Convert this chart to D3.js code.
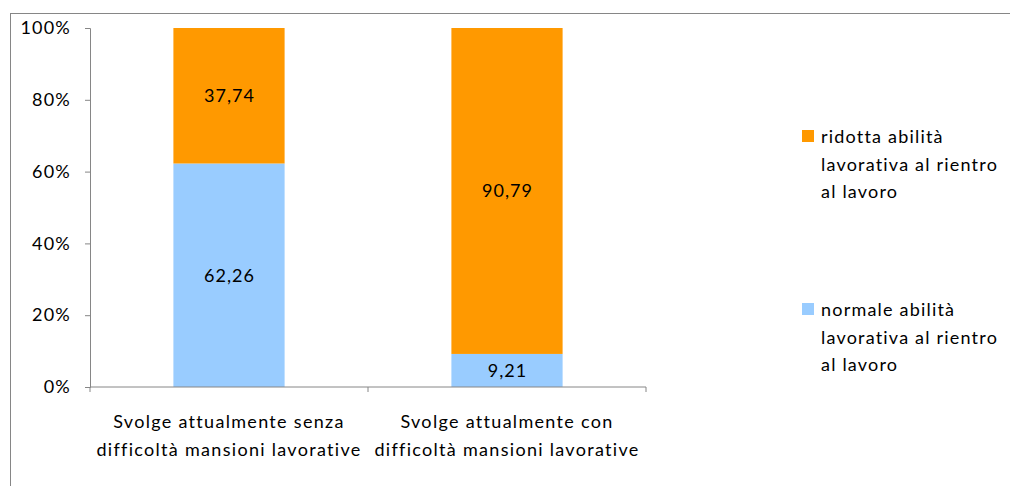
<!DOCTYPE html>
<html>
<head>
<meta charset="utf-8">
<script src="https://cdn.jsdelivr.net/npm/d3@7"></script>
<style>
  body { margin: 0; background: #fff; }
  text { font-family: Lato, "Open Sans", sans-serif; fill: #000; }
</style>
</head>
<body>
<div id="chart"></div>
<script>
var categories = [
    ["Svolge attualmente senza", "difficoltà mansioni lavorative"],
    ["Svolge attualmente con", "difficoltà mansioni lavorative"]
];
var normale = [62.26, 9.21];
var ridotta = [37.74, 90.79];
var valueLabels = [["62,26", "9,21"], ["37,74", "90,79"]];
var yTicks = [0, 20, 40, 60, 80, 100];
var legendLabels = [
    ["ridotta abilità", "lavorativa al rientro", "al lavoro"],
    ["normale abilità", "lavorativa al rientro", "al lavoro"]
];
var colors = ["#99ccff", "#ff9900"];

var width = 1010, height = 486;
var margin = {top: 28, left: 90, right: 364, bottom: 99};
var innerW = width - margin.left - margin.right,
    innerH = height - margin.top - margin.bottom;

var svg = d3.select("#chart").append("svg")
    .attr("width", width)
    .attr("height", height);

// outer frame
svg.append("rect")
    .attr("x", 10.5).attr("y", 13.5)
    .attr("width", 1100).attr("height", 600)
    .attr("fill", "none")
    .attr("stroke", "#868686");

var g = svg.append("g")
    .attr("transform", "translate(" + margin.left + "," + margin.top + ")");

var x = d3.scaleBand()
    .domain(d3.range(categories.length))
    .range([0, innerW])
    .paddingInner(0.6)
    .paddingOuter(0.3);
var y = d3.scaleLinear()
    .domain([0, 100])
    .range([innerH, 0]);

var series = [normale, ridotta];
var stacked = series.map(function(s, si) {
    return s.map(function(v, i) {
        var base = 0;
        for (var k = 0; k < si; k++) base += series[k][i];
        return {i: i, y0: base, y1: base + v, label: valueLabels[si][i], si: si};
    });
});

stacked.forEach(function(layer) {
    g.selectAll(null)
        .data(layer)
        .enter().append("rect")
        .attr("x", function(d) { return x(d.i); })
        .attr("width", x.bandwidth())
        .attr("y", function(d) { return y(d.y1); })
        .attr("height", function(d) { return y(d.y0) - y(d.y1); })
        .attr("fill", function(d) { return colors[d.si]; });

    g.selectAll(null)
        .data(layer)
        .enter().append("text")
        .attr("x", function(d) { return x(d.i) + x.bandwidth() / 2 + 0.5; })
        .attr("y", function(d) { return y((d.y0 + d.y1) / 2); })
        .attr("dy", "0.35em")
        .attr("text-anchor", "middle")
        .style("font-size", "18px")
        .style("letter-spacing", "1px")
        .text(function(d) { return d.label; });
});

// y axis
var yAxis = g.append("g")
    .call(d3.axisLeft(y).tickValues(yTicks).tickSize(5).tickPadding(14)
        .tickFormat(function(d) { return d + "%"; }));
yAxis.selectAll("text")
    .style("font-size", "18px")
    .style("letter-spacing", "1.2px")
    .style("font-family", "Lato, sans-serif");

// x axis with ticks at band edges
var xAxis = g.append("g").attr("transform", "translate(0," + innerH + ")");
xAxis.append("line")
    .attr("x1", 0).attr("x2", innerW)
    .attr("stroke", "#868686");
var edges = d3.range(categories.length + 1).map(function(i) { return innerW * i / categories.length; });
xAxis.selectAll(".edge")
    .data(edges)
    .enter().append("line")
    .attr("x1", function(d) { return d; }).attr("x2", function(d) { return d; })
    .attr("y1", 0).attr("y2", 5)
    .attr("stroke", "#868686");

categories.forEach(function(lines, i) {
    var cx = x(i) + x.bandwidth() / 2;
    var t = xAxis.append("text")
        .attr("text-anchor", "middle")
        .attr("x", cx)
        .attr("y", 41)
        .style("font-size", "18px")
        .style("letter-spacing", "1.3px");
    lines.forEach(function(l, j) {
        t.append("tspan")
            .attr("x", cx)
            .attr("dy", j === 0 ? 0 : 28)
            .text(l);
    });
});

yAxis.select(".domain").attr("stroke", "#868686");
yAxis.selectAll(".tick line").attr("stroke", "#868686");

// legend
var legendY = [130, 303];
var legendColors = [colors[1], colors[0]];
legendLabels.forEach(function(lines, i) {
    var lg = svg.append("g").attr("transform", "translate(802," + legendY[i] + ")");
    lg.append("rect")
        .attr("width", 12).attr("height", 12)
        .attr("fill", legendColors[i]);
    var t = lg.append("text")
        .attr("x", 20).attr("y", 13)
        .style("font-size", "18px")
        .style("letter-spacing", "1.2px");
    lines.forEach(function(l, j) {
        t.append("tspan")
            .attr("x", 19)
            .attr("dy", j === 0 ? 0 : 27.5)
            .text(l);
    });
});
</script>
</body>
</html>
